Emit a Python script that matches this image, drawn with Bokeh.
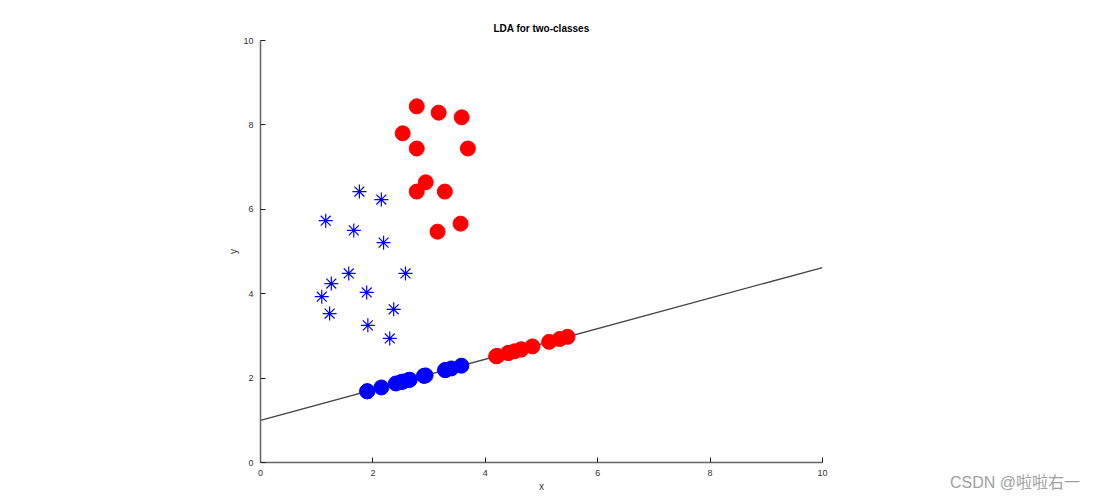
import numpy as np
from bokeh.plotting import figure
from bokeh.layouts import row
from bokeh.models import Range1d, FixedTicker, Div
from bokeh.embed import file_html
from bokeh.resources import INLINE

# class 1 (blue asterisks)
class1_x = [1.76, 2.15, 1.16, 1.66, 2.19, 1.57, 2.58, 1.26, 1.09, 1.89, 2.37, 1.23, 1.91, 2.30]
class1_y = [6.42, 6.23, 5.73, 5.50, 5.21, 4.48, 4.48, 4.24, 3.93, 4.03, 3.63, 3.53, 3.25, 2.94]
# class 2 (red circles)
class2_x = [2.78, 3.17, 3.58, 2.53, 2.78, 3.69, 2.94, 2.78, 3.28, 3.56, 3.15]
class2_y = [8.44, 8.29, 8.18, 7.80, 7.44, 7.44, 6.64, 6.42, 6.42, 5.66, 5.47]
# LDA projection line
line_x = [0.0, 10.0]
line_y = [1.0, 4.62]
x_ticks = [0, 2, 4, 6, 8, 10]
y_ticks = [0, 2, 4, 6, 8, 10]
watermark = "CSDN @啦啦右一"


def project(xs, ys):
    x0, y0 = line_x[0], line_y[0]
    dx, dy = line_x[1] - line_x[0], line_y[1] - line_y[0]
    xs = np.asarray(xs); ys = np.asarray(ys)
    t = ((xs - x0) * dx + (ys - y0) * dy) / (dx * dx + dy * dy)
    return x0 + t * dx, y0 + t * dy


p1x, p1y = project(class1_x, class1_y)
p2x, p2y = project(class2_x, class2_y)

p = figure(width=940, height=494, x_range=Range1d(0, 10), y_range=Range1d(0, 10),
           toolbar_location=None, output_backend="svg",
           min_border_left=260, min_border_right=118, min_border_top=40, min_border_bottom=32)
p.outline_line_color = None
p.grid.visible = False
p.background_fill_color = "white"
p.border_fill_color = "white"

p.title.text = "LDA for two-classes"
p.title.align = "center"
p.title.text_font = "Liberation Sans"
p.title.text_font_size = "10px"
p.title.text_font_style = "bold"
p.title.text_color = "black"
p.title.standoff = 14

for ax in (p.xaxis[0], p.yaxis[0]):
    ax.axis_line_color = "#666666"
    ax.axis_line_width = 1.5
    ax.major_tick_line_color = "#222222"
    ax.major_tick_in = 5
    ax.major_tick_out = 0
    ax.minor_tick_line_color = None
    ax.major_label_text_font = "Liberation Sans"
    ax.major_label_text_font_size = "9px"
    ax.major_label_text_color = "#333333"
    ax.axis_label_text_font = "Liberation Sans"
    ax.axis_label_text_font_size = "10px"
    ax.axis_label_text_font_style = "normal"
    ax.axis_label_text_color = "#333333"

p.xaxis.ticker = FixedTicker(ticks=x_ticks)
p.yaxis.ticker = FixedTicker(ticks=y_ticks)
p.xaxis.axis_label = "x"
p.yaxis.axis_label = "y"
p.xaxis.major_label_standoff = 7
p.xaxis.axis_label_standoff = 2
p.yaxis.major_label_standoff = 7
p.yaxis.axis_label_standoff = 1

p.line(line_x, line_y, line_color="#444444", line_width=1.3)

p.scatter(class1_x, class1_y, marker="asterisk", size=14, line_color="#0000ff", line_width=1.2)
p.scatter(class2_x, class2_y, marker="circle", size=15, fill_color="#ff0000", line_color="#ff0000")
p.scatter(p1x, p1y, marker="circle", size=15, fill_color="#0000ff", line_color="#0000ff")
p.scatter(p2x, p2y, marker="circle", size=15, fill_color="#ff0000", line_color="#ff0000")

# watermark as real HTML text in a side panel
wm = Div(text=('<div style="padding-top:474px; padding-left:10px; font-size:16px; '
               'line-height:18px; color:#a0a0a0; white-space:nowrap; '
               "font-family:'Liberation Sans','Noto Sans CJK SC',sans-serif;\">"
               + watermark + '</div>'),
         width=151, height=494, margin=0)

layout = row(p, wm, spacing=0)
open("out.html", "w").write(file_html(layout, INLINE))
